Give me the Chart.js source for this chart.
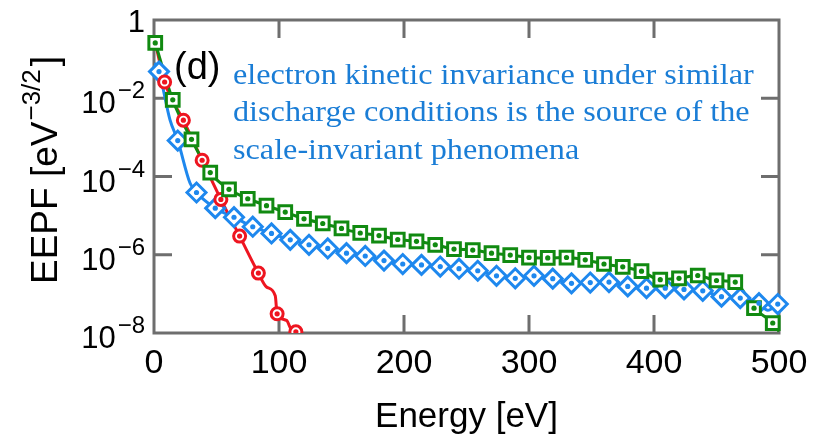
<!DOCTYPE html>
<html>
<head>
<meta charset="utf-8">
<script src="https://cdn.jsdelivr.net/npm/chart.js@4.4.1/dist/chart.umd.min.js"></script>
<style>
  html, body { margin: 0; padding: 0; background: #fff; }
</style>
</head>
<body>
<canvas id="eepf" width="821" height="435"></canvas>
<script>
// EEPF curves (energy in eV, EEPF in eV^-3/2)
const greenEnergy = [1, 15, 30, 45, 60, 75, 90, 105, 120, 135, 150, 165, 180, 195, 210, 225, 240,
  255, 270, 285, 300, 315, 330, 345, 360, 375, 390, 405, 420, 435, 450, 465, 480, 495];
const greenEepf = [2.6e-1, 9.1e-3, 8.9e-4, 1.26e-4, 4.7e-5, 2.7e-5, 1.8e-5, 1.23e-5, 8.3e-6, 6.3e-6,
  4.7e-6, 3.6e-6, 3.1e-6, 2.45e-6, 2.2e-6, 1.8e-6, 1.4e-6, 1.32e-6, 1.1e-6, 9.8e-7, 8.5e-7, 8.3e-7,
  8.5e-7, 7.4e-7, 5.8e-7, 4.9e-7, 3.8e-7, 2.3e-7, 2.5e-7, 2.95e-7, 2.2e-7, 2.0e-7, 4.3e-8, 1.8e-8];

const blueEnergy = [4, 19, 34, 49, 64, 79, 94, 109, 124, 139, 154, 169, 184, 199, 214, 229, 244,
  259, 274, 289, 304, 319, 334, 349, 364, 379, 394, 409, 424, 439, 454, 469, 484, 499];
const blueEepf = [4.8e-2, 8.3e-4, 3.9e-5, 1.55e-5, 9.1e-6, 5.2e-6, 3.5e-6, 2.4e-6, 1.8e-6, 1.45e-6,
  1.1e-6, 9.3e-7, 7.1e-7, 5.8e-7, 5.5e-7, 5.0e-7, 4.4e-7, 3.9e-7, 2.9e-7, 2.5e-7, 2.9e-7, 2.45e-7,
  1.86e-7, 1.95e-7, 2.0e-7, 1.55e-7, 1.4e-7, 1.4e-7, 1.3e-7, 1.2e-7, 8.5e-8, 7.8e-8, 5.8e-8, 5.5e-8];

const redEnergy = [8.5, 23.5, 38.5, 53.5, 68.5, 83.5, 98.5, 113.5];
const redEepf = [2.6e-2, 2.75e-3, 2.6e-4, 2.6e-5, 3.0e-6, 3.4e-7, 3.1e-8, 1.07e-8];

// extra samples of the traces between the markers
const greenTraceEnergy = [500];
const greenTraceEepf = [1.1e-8];
const blueTraceEnergy = [0.5, 12.8, 28.8, 491];
const blueTraceEepf = [8e-2, 2.8e-3, 6.8e-5, 3.8e-8];
const redTraceEnergy = [0.5, 90, 97, 106, 110, 118];
const redTraceEepf = [3.2e-1, 1.5e-7, 8.9e-8, 2.1e-8, 1.2e-8, 5e-9];

// axis ticks
const xTicks = [0, 100, 200, 300, 400, 500];
const yTicks = [1, 1e-2, 1e-4, 1e-6, 1e-8];
const yTickBase = ['1', '10', '10', '10', '10'];
const yTickExp = ['', '\u22122', '\u22124', '\u22126', '\u22128'];

const annotationLines = [
  'electron kinetic invariance under similar',
  'discharge conditions is the source of the',
  'scale-invariant phenomena'
];

const GREEN = '#118a11';
const BLUE = '#1e88ee';
const RED = '#ee1520';
const AXIS_GRAY = '#6e6e6e';
const SANS = "'Liberation Sans', Arial, sans-serif";
const SERIF = "'Liberation Serif', 'Times New Roman', serif";

function toPoints(xs, ys) {
  return xs.map((x, i) => ({ x: x, y: ys[i] }));
}

function tracePoints(xs, ys, ex, ey) {
  return toPoints(xs, ys).concat(toPoints(ex, ey)).sort((a, b) => a.x - b.x);
}

function lineSet(points, color) {
  return {
    data: points,
    borderColor: color,
    borderWidth: 3,
    pointRadius: 0,
    fill: false,
    cubicInterpolationMode: 'monotone',
    order: 3
  };
}

function markerSet(points, color, style, radius) {
  return {
    data: points,
    showLine: false,
    pointStyle: style,
    pointRadius: radius,
    pointBorderWidth: 3,
    pointBorderColor: color,
    pointBackgroundColor: '#ffffff',
    clip: { left: 12, top: 12, right: 12, bottom: 0 },
    order: 2
  };
}

function dotSet(points, color) {
  return {
    data: points,
    showLine: false,
    pointStyle: 'circle',
    pointRadius: 2.6,
    pointBorderWidth: 0,
    pointBackgroundColor: color,
    clip: { left: 12, top: 12, right: 12, bottom: 0 },
    order: 1
  };
}

const greenPts = toPoints(greenEnergy, greenEepf);
const bluePts = toPoints(blueEnergy, blueEepf);
const redPts = toPoints(redEnergy, redEepf);

// frame with inward ticks, drawn under the data
const framePlugin = {
  id: 'frame',
  beforeDatasetsDraw(chart) {
    const { ctx, chartArea: a, scales } = chart;
    ctx.save();
    ctx.strokeStyle = AXIS_GRAY;
    ctx.lineWidth = 3;
    ctx.strokeRect(a.left, a.top, a.right - a.left, a.bottom - a.top);
    const len = 18;
    ctx.beginPath();
    xTicks.slice(1, -1).forEach(v => {
      const px = scales.x.getPixelForValue(v);
      ctx.moveTo(px, a.bottom); ctx.lineTo(px, a.bottom - len);
      ctx.moveTo(px, a.top); ctx.lineTo(px, a.top + len);
    });
    yTicks.slice(1, -1).forEach(v => {
      const py = scales.y.getPixelForValue(v);
      ctx.moveTo(a.left, py); ctx.lineTo(a.left + len, py);
      ctx.moveTo(a.right, py); ctx.lineTo(a.right - len, py);
    });
    ctx.stroke();
    ctx.restore();
  },
  afterDraw(chart) {
    const { ctx, chartArea: a, scales } = chart;
    ctx.save();
    ctx.fillStyle = '#000';
    ctx.textBaseline = 'alphabetic';

    // x tick labels
    ctx.font = `34px ${SANS}`;
    ctx.textAlign = 'center';
    xTicks.forEach(v => {
      ctx.fillText(String(v), scales.x.getPixelForValue(v), 373);
    });

    // y tick labels with superscript exponents
    yTicks.forEach((v, i) => {
      const py = scales.y.getPixelForValue(v);
      const right = a.left - 9;
      const gap = yTickExp[i] ? 2 : 0;
      ctx.font = `31px ${SANS}`;
      const wb = ctx.measureText(yTickBase[i]).width;
      ctx.font = `24px ${SANS}`;
      const we = yTickExp[i] ? ctx.measureText(yTickExp[i]).width : 0;
      const left = right - wb - we - gap;
      ctx.textAlign = 'left';
      ctx.font = `31px ${SANS}`;
      ctx.fillText(yTickBase[i], left, py + (yTickExp[i] ? 15 : 12));
      if (yTickExp[i]) {
        ctx.font = `24px ${SANS}`;
        ctx.fillText(yTickExp[i], left + wb + gap, py);
      }
    });

    // x title
    ctx.font = `35px ${SANS}`;
    ctx.textAlign = 'center';
    ctx.fillText('Energy [eV]', (a.left + a.right) / 2, 427);

    // y title, rotated
    ctx.save();
    ctx.translate(57, 284);
    ctx.rotate(-Math.PI / 2);
    ctx.textAlign = 'left';
    ctx.font = `37px ${SANS}`;
    const part1 = 'EEPF [eV';
    ctx.fillText(part1, 0, 0);
    let off = ctx.measureText(part1).width + 1;
    ctx.font = `26px ${SANS}`;
    ctx.fillText('\u22123/2', off, -17);
    off += ctx.measureText('\u22123/2').width + 3;
    ctx.font = `37px ${SANS}`;
    ctx.fillText(']', off, 0);
    ctx.restore();

    // panel letter
    ctx.textAlign = 'left';
    ctx.font = `38px ${SANS}`;
    ctx.fillText('(d)', 174, 79);

    // annotation, slightly widened serif
    ctx.fillStyle = '#1a7dd6';
    ctx.font = `30px ${SERIF}`;
    annotationLines.forEach((t, i) => {
      ctx.save();
      ctx.translate(233, 83.5 + i * 37.5);
      ctx.scale(1.074, 1);
      ctx.fillText(t, 0, 0);
      ctx.restore();
    });
    ctx.restore();
  }
};

new Chart(document.getElementById('eepf'), {
  type: 'line',
  data: {
    datasets: [
      lineSet(tracePoints(greenEnergy, greenEepf, greenTraceEnergy, greenTraceEepf), GREEN),
      lineSet(tracePoints(redEnergy, redEepf, redTraceEnergy, redTraceEepf), RED),
      lineSet(tracePoints(blueEnergy, blueEepf, blueTraceEnergy, blueTraceEepf), BLUE),
      markerSet(greenPts, GREEN, 'rect', 9),
      markerSet(redPts, RED, 'circle', 6),
      markerSet(bluePts, BLUE, 'rectRot', 9.5),
      dotSet(greenPts, GREEN),
      dotSet(redPts, RED),
      dotSet(bluePts, BLUE)
    ]
  },
  options: {
    responsive: false,
    animation: false,
    layout: { padding: { left: 154, right: 42, top: 20, bottom: 102 } },
    scales: {
      x: { type: 'linear', min: 0, max: 500, display: false },
      y: { type: 'logarithmic', min: 1e-8, max: 1, display: false }
    },
    plugins: {
      legend: { display: false },
      tooltip: { enabled: false }
    }
  },
  plugins: [framePlugin]
});
</script>
</body>
</html>
